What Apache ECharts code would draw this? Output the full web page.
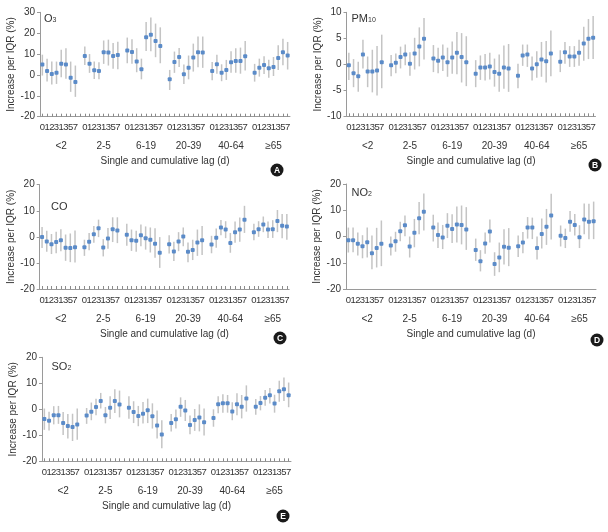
<!DOCTYPE html>
<html><head><meta charset="utf-8">
<script src="https://cdn.jsdelivr.net/npm/echarts@6/dist/echarts.min.js"></script>
<style>html,body{margin:0;padding:0;background:#fff}#c{width:608px;height:532px}</style>
</head><body><div id="c"></div>
<script>
const lagLabels = ['0','1','2','3','1','3','5','7'];
const ageGroups = ['<2','2-5','6-19','20-39','40-64','\u226565'];

const o3Est  = [5,1.9,0.5,1,5.3,5,-1.3,-3.4, 9.1,5.4,2.2,1.9,10.9,10.7,9.1,9.6, 11.7,11,6.4,2.7,18.1,19.2,16.3,13.9, -2.1,6.2,8.6,0.3,3.5,8.3,10.9,10.7, 1.9,5.1,1.1,2.4,6.1,6.7,6.7,8.9, 1,3.5,4.8,3.2,3.8,8.1,10.9,9.3];
const o3Low  = [-0.3,-3.2,-4.6,-4.3,-1.1,-1.8,-8.1,-10.5, 4.8,1,-1.9,-2.1,5.3,4.5,3,2.7, 5.6,5.3,1.3,-2.1,11.5,11.3,8.5,5.6, -7.2,1,3.8,-4.3,-2.1,1.6,3.7,3.4, -2.6,0.6,-3,-2.4,1,1,0.6,2.1, -3.2,-0.8,0.5,-1.3,-0.5,2.4,4.6,2.6];
const o3High = [9.7,7.7,6.4,6.4,12.1,12.8,6.4,4.5, 13.6,10,6.4,6.1,16.5,16.9,15.3,15.9, 17.9,17.1,12.8,7.8,25.4,27.5,24.6,22.8, 2.4,11.2,12.9,5,9.3,15,18.4,18.4, 6.2,9.7,5.1,7.2,11.3,12.8,13.1,16.3, 5.3,7.8,8.9,7.3,8.6,14.2,17.3,15.8];

const pmEst  = [-0.2,-1.7,-2.3,1.9,-1.4,-1.4,-1.2,0.4, -0.2,0.3,1.4,1.9,0.1,2.1,3.4,4.9, 1.1,0.7,1.3,0.4,1.3,2.2,1.4,0.4, -1.8,-0.6,-0.6,-0.4,-1.5,-1.8,-0.6,-0.8, -2.2,1.7,1.9,-0.8,0,0.9,0.6,2.1, 0.5,2.3,1.5,1.5,2.2,4,4.9,5.1];
const pmLow  = [-3,-4.4,-5.3,-0.8,-4.4,-5.4,-6,-4.6, -2.3,-1.7,-0.8,-0.2,-2.2,-1,-0.4,0.9, -1.5,-1.7,-1.3,-2.4,-1.8,-1.9,-3.5,-4.2, -4.4,-3,-3.1,-2.9,-4.3,-5.3,-4.7,-5.3, -4.6,-0.3,-0.5,-3.1,-2.6,-2.4,-3.5,-2.3, -1.5,0.1,-0.5,-0.5,-0.3,0.7,1,1];
const pmHigh = [2.2,1,0.5,4.7,1.5,2.8,3.5,5.7, 1.8,2.1,3.4,3.8,2.3,5.1,7.1,8.9, 3.7,3.2,3.8,3.2,4.4,6.2,6,5.4, 0.8,1.7,2,2.2,1.1,1.9,3.6,3.9, 0.1,3.8,3.8,1.5,2.5,4.3,4.5,6.5, 2.7,4.3,3.5,3.5,4.7,7.2,8.7,9.3];

const coEst  = [-0.1,-1.8,-2.8,-2,-1.3,-4.2,-4.3,-4, -4,-1.9,1,3.3,-4.1,-0.6,2.9,2.4, 0.8,-1.3,-1.5,0.6,-0.5,-1.1,-2.6,-6.1, -2.8,-5.6,-1.8,0.1,-5.7,-5,-2.2,-1.3, -2.9,-0.3,3.6,2.8,-2.4,1.8,2.8,6.6, 1.8,2.9,4.7,2.8,2.9,6.1,4.3,4];
const coLow  = [-4.3,-5.7,-6.6,-6.3,-5.5,-9.2,-9.7,-9.8, -7.3,-5.1,-2.3,-0.1,-7.5,-4.6,-2,-2.4, -3.4,-5.4,-5.7,-3.6,-4.9,-6,-8,-11.9, -6.4,-9.3,-5.5,-3.6,-9.7,-8.9,-7.3,-7, -6.3,-4.2,0.6,-0.5,-6.1,-2.3,-1.9,1.5, -1.3,0,1.8,-0.4,-0.4,1.8,-0.5,-1.1];
const coHigh = [3.8,2.3,1.1,2,2.9,0.9,1.3,2.4, -1.1,1.5,4.2,6.6,-0.9,3.4,7.5,7.5, 5,2.8,2.3,4.7,4,3.6,3.3,-0.1, 0.6,-1.9,1.8,3.6,-2.2,-1.1,2.8,4.2, 0.4,3.2,6.5,6,1.5,5.9,7.4,11.9, 5,6,7.8,5.9,6.4,10.3,8.8,8.8];

const no2Est  = [-1.4,-1.4,-2.8,-3.7,-2.2,-6.4,-4.4,-2.8, -3.4,-1.8,2,4.3,-3.8,1.4,7,9.4, 3.4,0.6,-0.4,4.1,2.9,4.6,4.4,2.7, -5.1,-9.4,-2.7,1.9,-10.5,-8,-3.9,-4.3, -3.7,-2.3,3.4,3.4,-4.4,1,3.7,8, 0.3,-0.6,5.6,4.4,-0.3,6.5,5.6,5.8];
const no2Low  = [-6.1,-6,-7.2,-8.3,-8,-12.5,-11.8,-11.3, -7.2,-5.8,-1.8,0.1,-8,-4.1,0.9,2.3, -1.9,-4.4,-4.8,-0.6,-2.5,-2.3,-3,-5.1, -9.3,-13.3,-6.6,-2.3,-15,-13.6,-10.7,-11.3, -7.8,-6.4,-0.8,-1,-8.8,-4.6,-3.2,-1.1, -3.8,-4.4,1.8,0.4,-4.4,0.9,-1,-1];
const no2High = [3.4,3.4,1.5,0.5,3.4,0.4,3.3,6.1, 0,1.8,5.6,8,0,6.7,13.1,16.4, 8.3,5.3,4.4,8.9,8.5,11.4,11.8,11.2, -0.8,-5.2,1.5,6.5,-6,-2.3,2.8,3.2, 0.4,1.7,7.4,7.2,0,6.9,10.5,16.3, 4.2,3,9.7,8.6,4.3,12.6,12.5,13.3];

const so2Est  = [-3.7,-4.4,-2.3,-2.3,-5.3,-6.4,-6.8,-5.8, -2.4,-0.9,0.9,3.2,-2.3,0.6,3.2,1.8, 0.6,-1,-2.6,-1.7,-0.4,-2.7,-6.2,-9.7, -5.3,-3.8,1,-0.5,-6,-4.1,-3.2,-5, -3.3,1.9,2.3,2.3,-0.8,1.9,1,4.2, 1,2.4,4.4,5.4,2.2,6.9,7.7,5.4];
const so2Low  = [-7.9,-8.2,-5.8,-5.6,-9.9,-11.2,-12.2,-11.7, -5.6,-4.2,-2.3,0.3,-5.4,-3.7,-1.4,-3.1, -3.6,-5.3,-6.5,-5.5,-5.3,-7.4,-11.2,-15, -8.5,-7.4,-2.9,-4.5,-9.6,-8.3,-8.5,-10.1, -6.7,-1.5,-1.3,-1.3,-4.2,-2.3,-3.5,-0.9, -2.1,-0.4,1.4,2.2,-1.3,2.9,3.2,0.8];
const so2High = [0.3,-0.9,1.2,1.3,-1,-1.8,-1.7,0.3, 0.5,2.6,4.1,6.3,0.9,5,7.7,7.2, 5,3.1,1.3,2.8,4.1,2.3,-0.5,-4.2, -1.8,-0.1,4.6,3.6,-2.4,0.1,1.9,0.3, 0,5,5.8,5.5,2.7,6.2,5.5,9.2, 4,5.1,7.4,8.2,5.6,11,12.2,10.3];

const panels = [
  {name:'O{s|3}', est:o3Est, low:o3Low, high:o3High, min:-20, max:30, step:10, letter:'A', ticks:true},
  {name:'PM{s|10}', est:pmEst, low:pmLow, high:pmHigh, min:-10, max:10, step:5, letter:'B', ticks:true},
  {name:'CO', est:coEst, low:coLow, high:coHigh, min:-20, max:20, step:10, letter:'C', ticks:true},
  {name:'NO{s|2}', est:no2Est, low:no2Low, high:no2High, min:-20, max:20, step:10, letter:'D', ticks:false},
  {name:'SO{s|2}', est:so2Est, low:so2Low, high:so2High, min:-20, max:20, step:10, letter:'E', ticks:true}
];

// layout (pixels)
const grids = [
  {left:40, top:12.3, width:250, height:104.4},
  {left:346.5, top:12.3, width:249, height:104},
  {left:39.7, top:184.7, width:249.5, height:104.3},
  {left:346, top:184, width:250, height:105},
  {left:42, top:357.3, width:249, height:104}
];
const nameGapsY = [23, 21, 23, 21, 23];
const labelPos = [[44,20],[351.5,20],[51,208.5],[351.5,194],[51.5,368]];
const letterPos = [[277,170],[595,165],[280,338],[597,340],[283,516]];

const FONT = "'Liberation Sans Narrow','Liberation Sans',sans-serif";
const GAP = 1, PER = lagLabels.length, STRIDE = PER + GAP;
const nSlots = ageGroups.length * STRIDE - GAP;
const slots = [];
for (let i = 0; i < nSlots; i++) slots.push('s' + i);

const option = {animation:false, backgroundColor:'#fff', grid:[], xAxis:[], yAxis:[], series:[], graphic:[]};

panels.forEach((p, k) => {
  option.grid.push(Object.assign({containLabel:false}, grids[k]));
  option.xAxis.push({
    type:'category', gridIndex:k, data:slots, boundaryGap:true, position:'bottom',
    axisLine:{onZero:false, lineStyle:{color:'#9a9a9a', width:1}},
    axisTick:{show:p.ticks, inside:true, length:3, alignWithLabel:true, interval:0, lineStyle:{color:'#8a8a8a'}},
    axisLabel:{interval:0, margin:6, fontSize:9.5, color:'#333', fontFamily:FONT,
      formatter:(v, i) => (i % STRIDE) < PER ? lagLabels[i % STRIDE] : ''}
  });
  option.xAxis.push({
    type:'category', gridIndex:k, data:slots, boundaryGap:true, position:'bottom',
    axisLine:{show:false, onZero:false}, axisTick:{show:false},
    axisLabel:{interval:0, margin:25, fontSize:10, color:'#333', fontFamily:FONT,
      formatter:(v, i) => (i % STRIDE) === 4 ? ageGroups[Math.floor(i / STRIDE)] : ''},
    name:'Single and cumulative lag (d)', nameLocation:'middle', nameGap:40,
    nameTextStyle:{fontSize:10, color:'#333', fontFamily:FONT}
  });
  option.yAxis.push({
    type:'value', gridIndex:k, min:p.min, max:p.max, interval:p.step,
    splitLine:{show:false},
    axisLine:{show:true, onZero:false, lineStyle:{color:'#9a9a9a', width:1}},
    axisTick:{show:true, length:3, lineStyle:{color:'#9a9a9a'}},
    axisLabel:{fontSize:10, color:'#333', margin:5, fontFamily:FONT},
    name:'Increase per IQR (%)', nameLocation:'middle', nameGap:nameGapsY[k],
    nameTextStyle:{fontSize:10, color:'#333', fontFamily:FONT}
  });
  const data = p.est.map((v, i) => [Math.floor(i / PER) * STRIDE + (i % PER), v, p.low[i], p.high[i]]);
  option.series.push({
    type:'custom', xAxisIndex:2 * k, yAxisIndex:k, data:data,
    encode:{x:0, y:[1,2,3]},
    renderItem:(params, api) => {
      const x = api.value(0);
      const c = api.coord([x, api.value(1)]);
      const lo = api.coord([x, api.value(2)]);
      const hi = api.coord([x, api.value(3)]);
      return {type:'group', children:[
        {type:'line', shape:{x1:lo[0], y1:lo[1], x2:hi[0], y2:hi[1]}, style:{stroke:'#c4c4c4', lineWidth:1.5}},
        {type:'rect', shape:{x:c[0] - 2, y:c[1] - 2, width:4, height:4, r:1}, style:{fill:'#5b8bc8'}}
      ]};
    }
  });
  option.graphic.push({
    type:'text', left:labelPos[k][0], top:labelPos[k][1] - 7,
    style:{text:p.name, fontSize:11, fill:'#333', fontFamily:FONT,
      rich:{s:{fontSize:7, fill:'#333', fontFamily:FONT, verticalAlign:'bottom', padding:[4,0,0,0]}}}
  });
  option.graphic.push({
    type:'group', x:letterPos[k][0], y:letterPos[k][1], children:[
      {type:'circle', shape:{cx:0, cy:0, r:6.5}, style:{fill:'#1a1a1a'}},
      {type:'text', x:0, y:0.5, style:{text:p.letter, fontSize:8.5, fontWeight:'bold', fill:'#fff', align:'center', verticalAlign:'middle', fontFamily:'Liberation Sans'}}
    ]
  });
});

const chart = echarts.init(document.getElementById('c'), null, {renderer:'canvas'});
chart.setOption(option);
</script></body></html>
